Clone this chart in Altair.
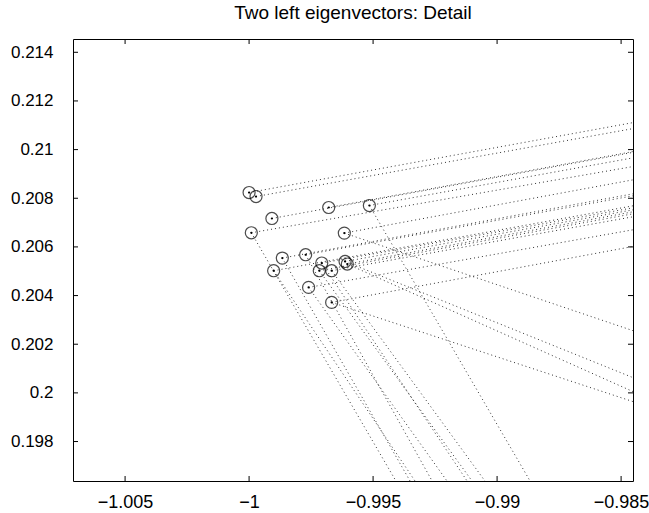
import altair as alt
import pandas as pd

# circle positions (eigenvector components)
circ_x = [-1.00000, -0.99972, -0.99679, -0.99515, -0.99908, -0.99991, -0.99616,
          -0.99866, -0.99772, -0.99707, -0.99717, -0.99667, -0.99613, -0.99604,
          -0.99901, -0.99760, -0.99667]
circ_y = [0.208235, 0.208071, 0.207620, 0.207702, 0.207168, 0.206581, 0.206568,
          0.205542, 0.205678, 0.205337, 0.205021, 0.205021, 0.205402, 0.205296,
          0.205021, 0.204335, 0.203719]

# upward trajectories: end at right edge
up_end_x = [-0.98452] * 17
up_end_y = [0.211109, 0.210863, 0.209919, 0.209660, 0.209886, 0.209303, 0.208757,
            0.208182, 0.208100, 0.207607, 0.207361, 0.207238, 0.207525, 0.207443,
            0.207689, 0.206704, 0.206018]

# downward trajectories
down_from = [5, 7, 14, 8, 15, 9, 10, 11, 3, 6, 12, 13, 16]
down_end_x = [-0.99408, -0.99351, -0.99331, -0.99262, -0.99202, -0.99121, -0.99101,
              -0.99049, -0.98867, -0.98452, -0.98452, -0.98452, -0.98452]
down_end_y = [0.196378, 0.196378, 0.196378, 0.196378, 0.196378, 0.196378, 0.196378,
              0.196378, 0.196378, 0.202557, 0.200627, 0.200053, 0.199642]

x_ticks = [-1.005, -1.0, -0.995, -0.99, -0.985]
y_ticks = [0.198, 0.2, 0.202, 0.204, 0.206, 0.208, 0.21, 0.212, 0.214]
x_dom = [-1.0071, -0.98452]
y_dom = [0.196378, 0.214546]

W, H = 560, 442

pts = pd.DataFrame({"x": circ_x, "y": circ_y})
segs = pd.DataFrame({
    "x": circ_x + [circ_x[i] for i in down_from],
    "y": circ_y + [circ_y[i] for i in down_from],
    "x2": up_end_x + down_end_x,
    "y2": up_end_y + down_end_y,
})
xt = pd.DataFrame({"t": x_ticks})
yt = pd.DataFrame({"t": y_ticks})

xs = alt.Scale(domain=x_dom, nice=False, zero=False)
ys = alt.Scale(domain=y_dom, nice=False, zero=False)
lf = "Liberation Sans"

xaxis = alt.Axis(values=x_ticks, format="~g", title=None, domain=False, ticks=False,
                 grid=False, labelFontSize=18, labelFont=lf, labelColor="black",
                 labelPadding=12)
yaxis = alt.Axis(values=y_ticks, format="~g", title=None, domain=False, ticks=False,
                 grid=False, labelFontSize=17, labelFont=lf, labelColor="black",
                 labelPadding=20)

lines = alt.Chart(segs).mark_rule(
    color="black", strokeWidth=1, strokeDash=[1, 3], opacity=0.8, clip=True
).encode(
    x=alt.X("x:Q", scale=xs, axis=xaxis),
    y=alt.Y("y:Q", scale=ys, axis=yaxis),
    x2="x2:Q", y2="y2:Q",
)

circles = alt.Chart(pts).mark_point(
    shape="circle", filled=False, color="black", size=145, strokeWidth=1.2
).encode(x=alt.X("x:Q", scale=xs), y=alt.Y("y:Q", scale=ys))

dots = alt.Chart(pts).mark_point(
    shape="circle", filled=True, color="black", size=5, opacity=1
).encode(x=alt.X("x:Q", scale=xs), y=alt.Y("y:Q", scale=ys))

tb = alt.Chart(xt).mark_rule(color="black", strokeWidth=1).encode(
    x=alt.X("t:Q", scale=xs), y=alt.value(H), y2=alt.value(H - 5))
tt = alt.Chart(xt).mark_rule(color="black", strokeWidth=1).encode(
    x=alt.X("t:Q", scale=xs), y=alt.value(0), y2=alt.value(5))
tl = alt.Chart(yt).mark_rule(color="black", strokeWidth=1).encode(
    y=alt.Y("t:Q", scale=ys), x=alt.value(0), x2=alt.value(5))
tr = alt.Chart(yt).mark_rule(color="black", strokeWidth=1).encode(
    y=alt.Y("t:Q", scale=ys), x=alt.value(W), x2=alt.value(W - 5))

chart = alt.layer(lines, circles, dots, tb, tt, tl, tr).properties(
    width=W, height=H,
    title=alt.TitleParams("Two left eigenvectors: Detail", font=lf, fontSize=19,
                          fontWeight="normal", color="black", anchor="middle",
                          offset=16),
    autosize=alt.AutoSizeParams(type="none"),
    padding={"left": 73, "top": 39, "right": 16, "bottom": 32},
    background="white",
).configure_view(stroke="black", strokeWidth=1)

chart.save("out.html", embed_options={"renderer": "svg", "actions": False})
